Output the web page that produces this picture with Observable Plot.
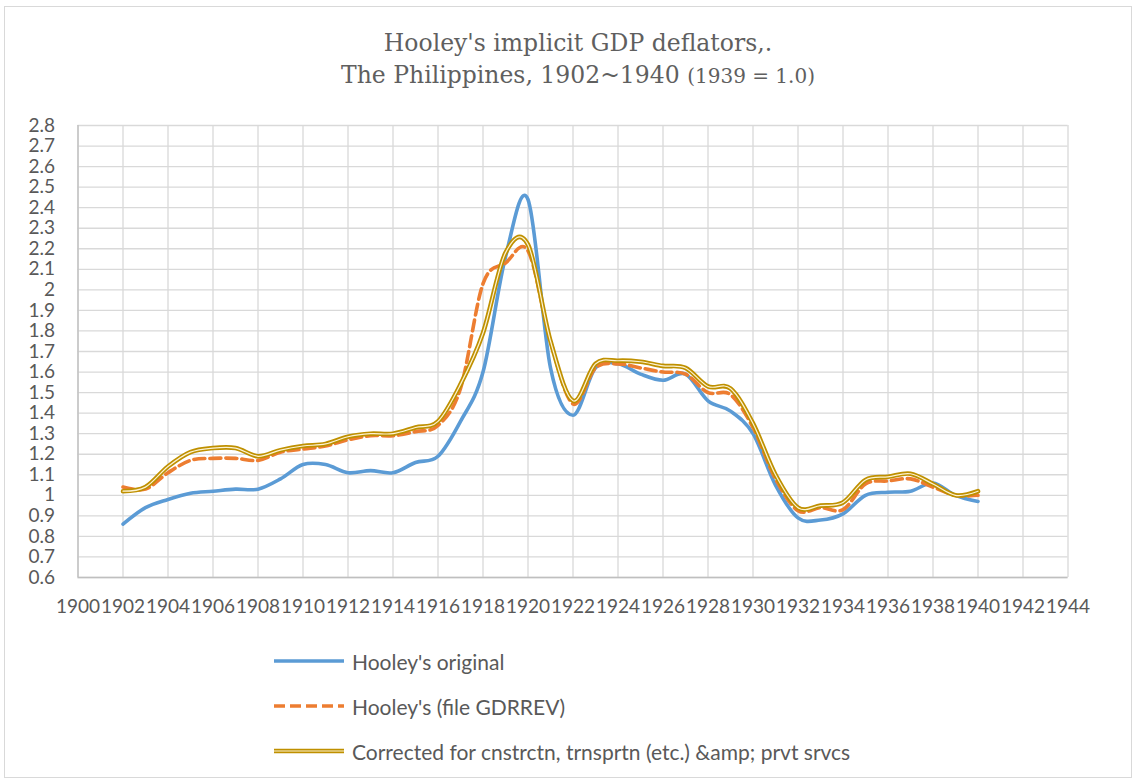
<!DOCTYPE html>
<html>
<head>
<meta charset="utf-8">
<script src="https://cdn.jsdelivr.net/npm/d3@7"></script>
<script src="https://cdn.jsdelivr.net/npm/@observablehq/plot@0.6"></script>
<style>
  body { margin: 0; background: #fff; }
  #wrap { position: relative; width: 1136px; height: 781px; overflow: hidden; font-family: Lato, "Open Sans", sans-serif; color: #595959; }
  #frame { position: absolute; left: 4px; top: 6px; width: 1128px; height: 772px; border: 1px solid #d9d9d9; box-sizing: border-box; }
  #title { position: absolute; left: 0; width: 1156px; top: 27px; text-align: center; font-family: "DejaVu Serif", serif; font-size: 23.5px; line-height: 32px; color: #5f5f5f; }
  #title .small { font-size: 20px; }
  #chart { position: absolute; left: 0; top: 110px; }
  .lg { position: absolute; left: 272px; height: 26px; display: flex; align-items: center; font-size: 21px; white-space: nowrap; }
  .lg svg { margin-right: 6px; }
</style>
</head>
<body>
<div id="wrap">
  <div id="frame"></div>
  <div id="title">Hooley's implicit GDP deflators,.<br>The Philippines, 1902~1940 <span class="small">(1939 = 1.0)</span></div>
  <div id="chart"></div>
  <div id="legend"></div>
</div>
<script>
// ---- data ----
const years = [1902, 1903, 1904, 1905, 1906, 1907, 1908, 1909, 1910, 1911,
               1912, 1913, 1914, 1915, 1916, 1917, 1918, 1919, 1920, 1921,
               1922, 1923, 1924, 1925, 1926, 1927, 1928, 1929, 1930, 1931,
               1932, 1933, 1934, 1935, 1936, 1937, 1938, 1939, 1940];
const hooleyOriginal = [0.86, 0.94, 0.98, 1.01, 1.02, 1.03, 1.03, 1.08, 1.15, 1.15,
                        1.11, 1.12, 1.11, 1.16, 1.19, 1.36, 1.60, 2.16, 2.44, 1.62,
                        1.39, 1.62, 1.64, 1.59, 1.56, 1.59, 1.46, 1.41, 1.30, 1.05,
                        0.89, 0.88, 0.91, 1.00, 1.015, 1.02, 1.06, 1.00, 0.97];
const hooleyGDRREV = [1.04, 1.03, 1.11, 1.17, 1.18, 1.18, 1.17, 1.21, 1.225, 1.24,
                      1.27, 1.29, 1.29, 1.31, 1.34, 1.52, 2.03, 2.13, 2.19, 1.75,
                      1.445, 1.62, 1.64, 1.62, 1.60, 1.59, 1.50, 1.49, 1.33, 1.08,
                      0.925, 0.94, 0.93, 1.055, 1.07, 1.08, 1.04, 1.00, 1.00];
const corrected = [1.02, 1.04, 1.14, 1.21, 1.23, 1.23, 1.19, 1.22, 1.24, 1.25,
                   1.285, 1.30, 1.30, 1.33, 1.36, 1.54, 1.79, 2.18, 2.22, 1.75,
                   1.46, 1.64, 1.655, 1.65, 1.63, 1.62, 1.53, 1.52, 1.35, 1.10,
                   0.94, 0.95, 0.965, 1.075, 1.09, 1.105, 1.055, 1.00, 1.02];
const xTicks = [1900, 1902, 1904, 1906, 1908, 1910, 1912, 1914, 1916, 1918, 1920, 1922,
                1924, 1926, 1928, 1930, 1932, 1934, 1936, 1938, 1940, 1942, 1944];
const yTicks = [0.6, 0.7, 0.8, 0.9, 1.0, 1.1, 1.2, 1.3, 1.4, 1.5, 1.6, 1.7,
                1.8, 1.9, 2.0, 2.1, 2.2, 2.3, 2.4, 2.5, 2.6, 2.7, 2.8];
const seriesNames = ["Hooley's original", "Hooley's (file GDRREV)",
                     "Corrected for cnstrctn, trnsprtn (etc.) &amp; prvt srvcs"];
const colors = ["#5B9BD5", "#ED7D31", "#BF9000"];

const rows = years.map((yr, i) => ({year: yr, a: hooleyOriginal[i], b: hooleyGDRREV[i], c: corrected[i]}));
const curve = "cardinal";

const chart = Plot.plot({
  width: 1136,
  height: 520,
  marginLeft: 77.5,
  marginRight: 68.5,
  marginTop: 15,
  marginBottom: 53,
  style: {fontFamily: "Lato, 'Open Sans', sans-serif", fontSize: "19px", color: "#595959", background: "transparent"},
  x: {domain: [1900, 1944], ticks: xTicks, tickFormat: d => String(d), tickSize: 0, tickPadding: 22, label: null},
  y: {domain: [0.6, 2.8], ticks: yTicks, tickFormat: d => String(+d.toFixed(1)), tickSize: 0, tickPadding: 23, label: null},
  marks: [
    Plot.ruleY(yTicks, {stroke: "#d9d9d9", strokeWidth: 1.3}),
    Plot.ruleX(xTicks, {stroke: "#d9d9d9", strokeWidth: 1.3}),
    Plot.ruleX([1900], {stroke: "#bfbfbf", strokeWidth: 1.3}),
    Plot.ruleY([0.6], {stroke: "#bfbfbf", strokeWidth: 1.3}),
    Plot.line(rows, {x: "year", y: "a", stroke: colors[0], strokeWidth: 3.6, curve, tension: 0}),
    Plot.line(rows, {x: "year", y: "b", stroke: colors[1], strokeWidth: 3.6, strokeDasharray: "11,5", curve, tension: 0}),
    Plot.line(rows, {x: "year", y: "c", stroke: colors[2], strokeWidth: 4.6, curve, tension: 0}),
    Plot.line(rows, {x: "year", y: "c", stroke: "#fdf3d2", strokeWidth: 1.2, curve, tension: 0})
  ]
});
document.getElementById("chart").appendChild(chart);

// ---- legend ----
const legend = document.getElementById("legend");
const rowTops = [648, 693, 738];
seriesNames.forEach((name, i) => {
  const d = document.createElement("div");
  d.className = "lg";
  d.style.top = rowTops[i] + "px";
  let sw;
  if (i === 0) sw = `<line x1="2" y1="6" x2="72" y2="6" stroke="${colors[0]}" stroke-width="3.6"/>`;
  else if (i === 1) sw = `<line x1="2" y1="6" x2="72" y2="6" stroke="${colors[1]}" stroke-width="3.6" stroke-dasharray="11,5"/>`;
  else sw = `<line x1="2" y1="6" x2="72" y2="6" stroke="${colors[2]}" stroke-width="4.6"/><line x1="2" y1="6" x2="72" y2="6" stroke="#fdf3d2" stroke-width="1.2"/>`;
  d.innerHTML = `<svg width="74" height="12">${sw}</svg>`;
  const t = document.createElement("span");
  t.textContent = name;
  d.appendChild(t);
  legend.appendChild(d);
});
</script>
</body>
</html>
